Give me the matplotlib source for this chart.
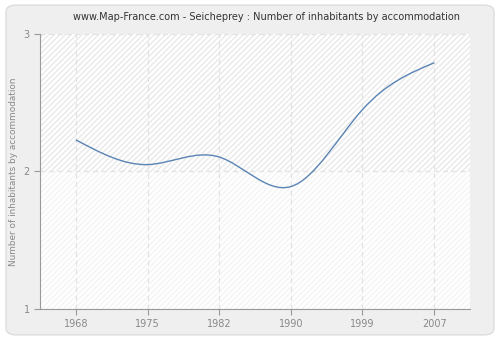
import numpy as np
import matplotlib.pyplot as plt
from matplotlib.patches import FancyBboxPatch, Rectangle, PathPatch
from matplotlib.path import Path

annees = ['1968', '1975', '1982', '1990', '1999', '2007']
valeurs = [2.23, 2.05, 2.105, 1.89, 2.45, 2.79]


def courbe_lisse(ys):
    # spline cubique naturelle (pas = 1) convertie en chemin de Bezier
    ys = np.asarray(ys, dtype=float)
    n = len(ys)
    A = np.zeros((n, n))
    b = np.zeros(n)
    A[0, 0] = A[-1, -1] = 1
    for i in range(1, n - 1):
        A[i, i - 1], A[i, i], A[i, i + 1] = 1, 4, 1
        b[i] = 6 * (ys[i + 1] - 2 * ys[i] + ys[i - 1])
    M = np.linalg.solve(A, b)
    d = np.zeros(n)
    for i in range(n - 1):
        d[i] = (ys[i + 1] - ys[i]) - (2 * M[i] + M[i + 1]) / 6
    d[-1] = (ys[-1] - ys[-2]) + (M[-2] + 2 * M[-1]) / 6
    sommets = [(0, ys[0])]
    codes = [Path.MOVETO]
    for i in range(n - 1):
        sommets += [(i + 1 / 3, ys[i] + d[i] / 3),
                    (i + 2 / 3, ys[i + 1] - d[i + 1] / 3),
                    (i + 1, ys[i + 1])]
        codes += [Path.CURVE4] * 3
    return Path(sommets, codes)


fig = plt.figure(figsize=(5, 3.4), dpi=100)
fig.patch.set_facecolor('white')
fond = FancyBboxPatch((0.012, 0.015), 0.976, 0.97, boxstyle='round,pad=0,rounding_size=0.02',
                      transform=fig.transFigure, facecolor='#efefef', edgecolor='#dddddd',
                      linewidth=1, zorder=-5)
fig.patches.append(fond)

ax = fig.add_axes([0.08, 0.0912, 0.86, 0.809])
ax.set_zorder(2)
ax.set_facecolor('white')
ax.set_xlim(-0.5, 5.5)
ax.set_ylim(1, 3)

# fond hachuré
ax.add_patch(Rectangle((-0.5, 2), 6, 1, facecolor='white', edgecolor='#e9e9e9',
                       hatch='//////', linewidth=0, zorder=0))
ax.add_patch(Rectangle((-0.5, 1), 6, 1, facecolor='white', edgecolor='#f4f4f4',
                       hatch='//////', linewidth=0, zorder=0))

xs = list(range(len(annees)))
ax.add_patch(PathPatch(courbe_lisse(valeurs), facecolor='none', edgecolor='#5a84b4',
                       linewidth=1, zorder=3))

ax.set_xticks(xs)
ax.set_xticklabels(annees)
ax.set_yticks([1, 2, 3])
ax.grid(True, color='#e2e2e2', linestyle=(0, (4, 3)), linewidth=0.9)
ax.set_axisbelow(True)
for s in ['top', 'right']:
    ax.spines[s].set_visible(False)
for s in ['left', 'bottom']:
    ax.spines[s].set_color('#999999')
ax.tick_params(colors='#999999', labelcolor='#888888', labelsize=7, length=4)
ax.set_ylabel('Number of inhabitants by accommodation', color='#888888', fontsize=6.4)
ax.set_title('www.Map-France.com - Seicheprey : Number of inhabitants by accommodation',
             fontsize=7, color='#333333', pad=10, x=0.527)

plt.savefig('out.png', dpi=100, facecolor=fig.get_facecolor())
